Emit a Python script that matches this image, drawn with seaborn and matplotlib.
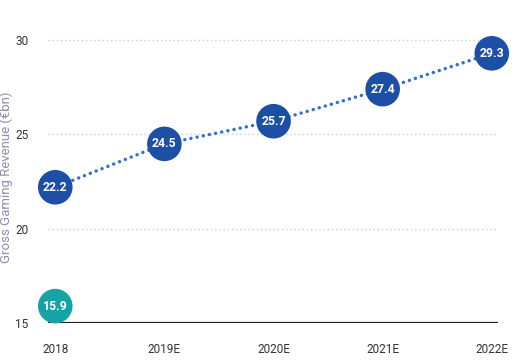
import numpy as np
import pandas as pd
import seaborn as sns
import matplotlib.pyplot as plt

years = ['2018', '2019E', '2020E', '2021E', '2022E']
revenue = [22.2, 24.5, 25.7, 27.4, 29.3]
other_year = ['2018']
other_value = [15.9]
yticks = [15, 20, 25, 30]

sns.set_style('white')
plt.rcParams['font.family'] = ['Roboto', 'DejaVu Sans']

df = pd.DataFrame({'year': years, 'revenue': revenue})
df['pos'] = range(len(years))
df2 = pd.DataFrame({'pos': [years.index(y) for y in other_year], 'value': other_value})

fig = plt.figure(figsize=(5.18, 3.61), dpi=100)
ax = fig.add_axes([0.093, 0.105, 0.868, 0.81])

dark_blue = '#1d4fa6'
teal = '#17a2a8'

# grid lines
for t in yticks[1:]:
    ax.axhline(t, color='#c9c9ec', lw=1, ls=(0, (1, 2)), zorder=0)
ax.axhline(15, color='#222222', lw=1.6, zorder=1)

sns.lineplot(data=df, x='pos', y='revenue', ax=ax, color='#2f6fd8', lw=2.5,
             linestyle=(0, (0.01, 1.8)), dash_capstyle='round', zorder=2)

sns.scatterplot(data=df, x='pos', y='revenue', ax=ax, s=620, color=dark_blue,
                edgecolor='none', zorder=3, legend=False)
sns.scatterplot(data=df2, x='pos', y='value', ax=ax, s=620, color=teal,
                edgecolor='none', zorder=3, legend=False)
for c in ax.collections:
    c.set_clip_on(False)

for _, r in df.iterrows():
    ax.text(r['pos'], r['revenue'], f"{r['revenue']:.1f}", color='white', ha='center',
            va='center', fontsize=8.8, fontweight='bold', zorder=4)
for _, r in df2.iterrows():
    ax.text(r['pos'], r['value'], f"{r['value']:.1f}", color='white', ha='center',
            va='center', fontsize=8.8, fontweight='bold', zorder=4)

ax.set_xlim(-0.065, 4.055)
ax.set_ylim(15, 30.5)
ax.set_xticks(range(len(years)))
ax.set_xticklabels(years)
ax.set_yticks(yticks)
ax.tick_params(axis='both', length=0, labelsize=8.5, labelcolor='#333333')
ax.tick_params(axis='x', pad=14)
ax.tick_params(axis='y', pad=14)
ax.set_xlabel('')
ax.set_ylabel('Gross Gaming Revenue (€bn)', color='#8d8db0', fontsize=9.5)
ax.yaxis.set_label_coords(-0.079, 0.5)
for s in ax.spines.values():
    s.set_visible(False)

fig.savefig('out.png', dpi=100)
